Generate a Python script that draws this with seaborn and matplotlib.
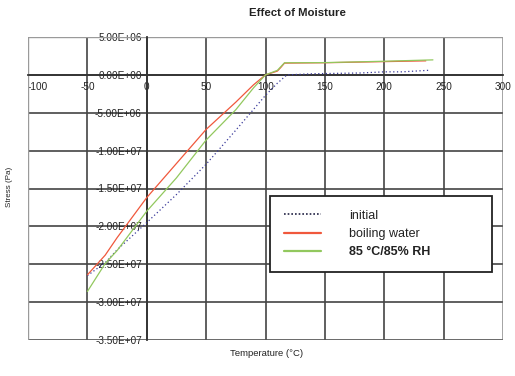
import pandas as pd
import matplotlib
matplotlib.use('Agg')
import matplotlib.pyplot as plt
import seaborn as sns
from matplotlib.ticker import FuncFormatter, MultipleLocator
from matplotlib.patches import Rectangle

# --- DATA ---
temp_initial = [-50, -35, -25, 0, 25, 50, 75, 100, 110, 118, 140, 160, 180, 200, 215, 237]
stress_initial = [-2.65e7, -2.48e7, -2.31e7, -1.95e7, -1.58e7, -1.18e7, -7.3e6, -2.7e6,
                  -1.1e6, 0.0, 1.5e5, 2.0e5, 2.5e5, 4.0e5, 4.0e5, 6.0e5]

temp_boiling = [-50, -35, -25, 0, 25, 50, 75, 90, 100, 110, 113, 116, 150, 200, 235]
stress_boiling = [-2.64e7, -2.38e7, -2.15e7, -1.62e7, -1.17e7, -7.2e6, -3.6e6,
                  -1.3e6, 0.0, 5.0e5, 1.0e6, 1.55e6, 1.6e6, 1.75e6, 1.85e6]

temp_humid = [-50, -35, -25, 0, 25, 50, 75, 90, 100, 110, 116, 150, 200, 241]
stress_humid = [-2.86e7, -2.49e7, -2.32e7, -1.80e7, -1.36e7, -8.6e6, -4.6e6,
                -1.7e6, 0.0, 6.0e5, 1.6e6, 1.62e6, 1.8e6, 1.98e6]

series_names = ['initial', 'boiling water', '85 \u00b0C/85% RH']
x_ticks = [-100, -50, 0, 50, 100, 150, 200, 250, 300]

df = pd.concat([
    pd.DataFrame({'T': temp_initial, 'S': stress_initial, 'serie': series_names[0]}),
    pd.DataFrame({'T': temp_boiling, 'S': stress_boiling, 'serie': series_names[1]}),
    pd.DataFrame({'T': temp_humid, 'S': stress_humid, 'serie': series_names[2]}),
])

# --- PLOT ---
sns.set_theme(style="white")
plt.rcParams['font.family'] = ['Liberation Sans', 'DejaVu Sans']

fig = plt.figure(figsize=(5.15, 3.76), dpi=100)
ax = fig.add_axes([28 / 515, 1 - 340 / 376, 475 / 515, 303 / 376])

farben = {series_names[0]: '#3a3a9a', series_names[1]: '#f0583c', series_names[2]: '#92c85e'}
striche = {series_names[0]: (1, 2), series_names[1]: '', series_names[2]: ''}

sns.lineplot(data=df, x='T', y='S', hue='serie', style='serie', palette=farben,
             dashes=striche, sort=False, linewidth=0.9, ax=ax, zorder=3)

ax.set_xlim(-100, 300)
ax.set_ylim(-3.5e7, 5e6)
ax.set_xticks(x_ticks, [f'{v:g}' for v in x_ticks])
ax.yaxis.set_major_locator(MultipleLocator(5e6))
ax.yaxis.set_major_formatter(FuncFormatter(lambda v, pos: f'{v:.2E}'))

# axes cross at the origin
ax.spines['left'].set_position(('data', 0))
ax.spines['bottom'].set_position(('data', 0))
for s in ['left', 'bottom']:
    ax.spines[s].set_color('#333333')
    ax.spines[s].set_linewidth(1.3)
for s in ['top', 'right']:
    ax.spines[s].set_visible(False)

ax.grid(True, color='#444444', linewidth=1.2)
ax.set_axisbelow(True)
for g in [ax.xaxis.get_gridlines()[0], ax.xaxis.get_gridlines()[-1],
          ax.yaxis.get_gridlines()[0], ax.yaxis.get_gridlines()[-1]]:
    g.set_color('#9a9a9a')
ax.add_patch(Rectangle((0, 0), 1, 1, transform=ax.transAxes, fill=False,
                       ec='#9a9a9a', lw=1.0, zorder=1))

ax.tick_params(axis='y', direction='out', length=3, width=0.8, pad=0.5,
               labelsize=7.2, colors='#222222')
ax.tick_params(axis='x', direction='out', length=2, width=0.8, pad=3,
               labelsize=7.2, colors='#222222')

ax.set_xlabel('')
ax.set_ylabel('')
fig.text(10 / 515, 1 - 187 / 376, 'Stress (Pa)', rotation=90, fontsize=5.8,
         ha='center', va='center', color='#222222')
fig.text(267 / 515, 1 - 353 / 376, 'Temperature (\u00b0C)', fontsize=6.8,
         ha='center', va='center', color='#222222')
fig.text(297 / 515, 1 - 13 / 376, 'Effect of Moisture', fontsize=8.2,
         fontweight='bold', ha='center', va='center', color='#222222')

handles, labels = ax.get_legend_handles_labels()
leg = ax.legend(handles, labels, loc='upper left',
                bbox_to_anchor=((270 - 28) / 475, (340 - 196) / 303, (492 - 270) / 475, 0.0),
                mode='expand', fontsize=9, frameon=True, fancybox=False,
                handlelength=3.0, handletextpad=2.2, labelspacing=0.5,
                borderpad=1.1, borderaxespad=0.0)
leg.get_frame().set_edgecolor('#222222')
leg.get_frame().set_linewidth(1.3)
leg.get_frame().set_facecolor('white')
leg.get_frame().set_alpha(1.0)
leg.set_zorder(5)
for line in leg.get_lines():
    line.set_linewidth(1.6)
leg.get_lines()[0].set_color('#222244')
leg.get_lines()[0].set_linewidth(1.2)
leg.get_lines()[0].set_dashes((1, 1.2))
for t in leg.get_texts():
    t.set_color('#222222')
leg.get_texts()[2].set_fontweight('bold')

# first x label sits inside the frame, like the original
fig.canvas.draw()
ax.xaxis.get_major_ticks()[0].label1.set_horizontalalignment('left')

fig.savefig('out.png', dpi=100)
plt.close(fig)
